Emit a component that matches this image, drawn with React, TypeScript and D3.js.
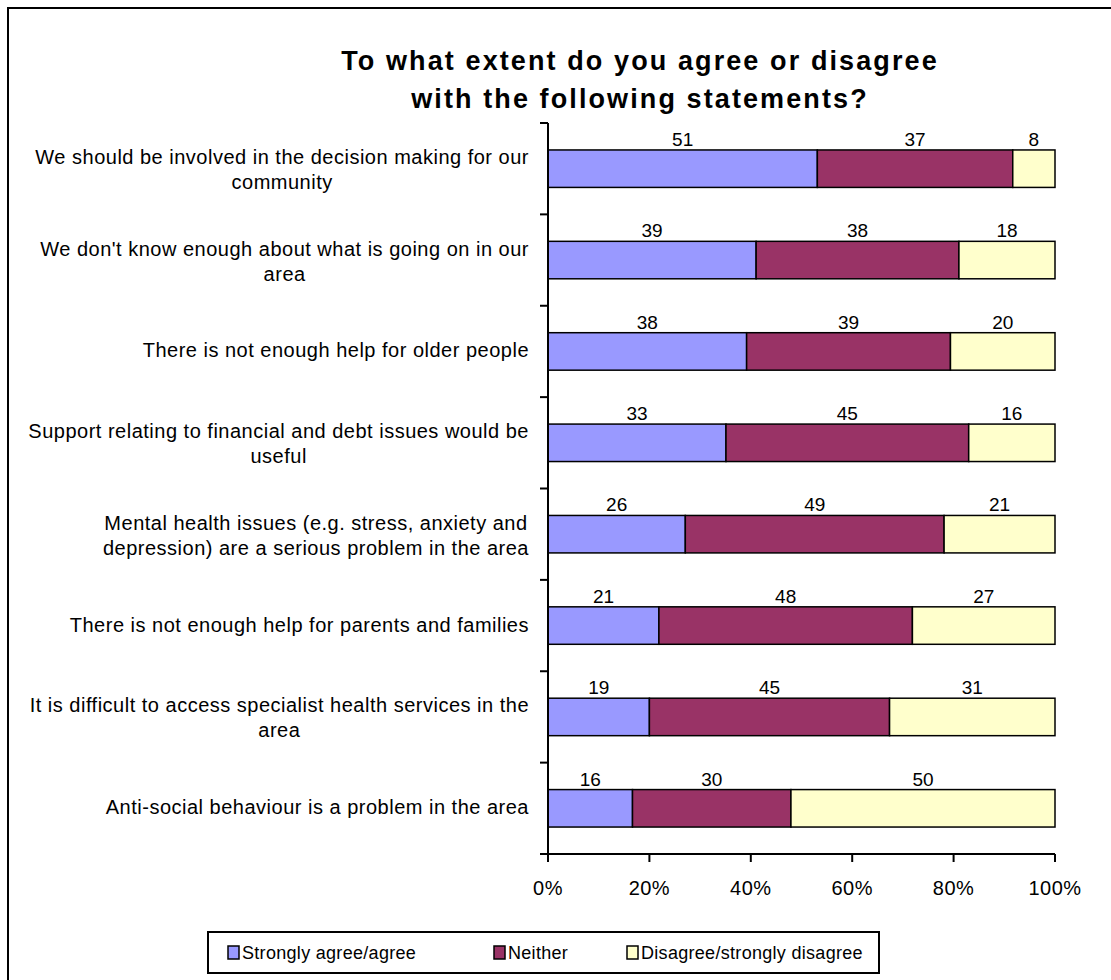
import React, { useEffect, useRef } from "react";
import * as d3 from "d3";

const categories: string[][] = [
  ["We should be involved in the decision making for our", "community"],
  ["We don't know enough about what is going on in our", "area"],
  ["There is not enough help for older people"],
  ["Support relating to financial and debt issues would be", "useful"],
  ["Mental health issues (e.g. stress, anxiety and", "depression) are a serious problem in the area"],
  ["There is not enough help for parents and families"],
  ["It is difficult to access specialist health services in the", "area"],
  ["Anti-social behaviour is a problem in the area"],
];
const agree = [51, 39, 38, 33, 26, 21, 19, 16];
const neither = [37, 38, 39, 45, 49, 48, 45, 30];
const disagree = [8, 18, 20, 16, 21, 27, 31, 50];
const seriesNames = ["Strongly agree/agree", "Neither", "Disagree/strongly disagree"];
const colors = ["#9999FF", "#993366", "#FFFFCC"];
const xTicks = [0, 0.2, 0.4, 0.6, 0.8, 1];
const titleLines = ["To what extent do you agree or disagree", "with the following statements?"];

const FONT = "'Liberation Sans', Arial, sans-serif";

export default function App() {
  const labelsRef = useRef<SVGGElement>(null);
  const x = d3.scaleLinear().domain([0, 1]).range([548, 1055]);
  const idx = categories.map((_, i) => i);
  const y = d3.scaleBand<number>().domain(idx).range([123, 854]).paddingInner(0).paddingOuter(0);
  const step = y.step();
  const barH = step * 0.41;

  const rows = idx.map((i) => ({ agree: agree[i], neither: neither[i], disagree: disagree[i] }));
  const stack = d3.stack<any>().keys(["agree", "neither", "disagree"]).offset(d3.stackOffsetExpand);
  const stacked = stack(rows);

  const legendX = [228, 494, 627];

  useEffect(() => {
    document.body.style.overflow = "hidden";
    document.documentElement.style.overflow = "hidden";
    const g = labelsRef.current;
    if (!g) return;
    d3.select(g)
      .selectAll<SVGGElement, unknown>("g.cat")
      .each(function () {
        const texts = d3.select(this).selectAll<SVGTextElement, unknown>("text");
        let maxW = 0;
        texts.each(function () {
          maxW = Math.max(maxW, this.getComputedTextLength());
        });
        texts.attr("text-anchor", "middle").attr("x", 529 - maxW / 2);
      });
  }, []);

  return (
    <svg
      width={1111}
      height={980}
      style={{ position: "fixed", left: 0, top: 0, fontFamily: FONT, background: "#fff" }}
    >
      <line x1={8} x2={1111} y1={8} y2={8} stroke="#000" strokeWidth={2} />
      <line x1={8} x2={8} y1={7} y2={980} stroke="#000" strokeWidth={2} />
      {titleLines.map((t, i) => (
        <text
          key={i}
          x={640}
          y={70 + i * 38}
          textAnchor="middle"
          fontWeight="bold"
          fontSize={27}
          letterSpacing={2.1}
          fill="#000"
        >
          {t}
        </text>
      ))}
      {/* bars */}
      {stacked.map((s, si) =>
        s.map((d, i) => {
          const y0 = (y(i) as number) + step / 2 - barH / 2;
          return (
            <rect
              key={`${si}-${i}`}
              x={x(d[0])}
              y={y0}
              width={x(d[1]) - x(d[0])}
              height={barH}
              fill={colors[si]}
              stroke="#000"
              strokeWidth={1.5}
            />
          );
        })
      )}
      {/* data labels */}
      {stacked.map((s, si) =>
        s.map((d, i) => {
          const y0 = (y(i) as number) + step / 2 - barH / 2;
          const v = [agree, neither, disagree][si][i];
          return (
            <text
              key={`l${si}-${i}`}
              x={(x(d[0]) + x(d[1])) / 2}
              y={y0 - 4}
              textAnchor="middle"
              fontSize={19}
              fill="#000"
            >
              {v}
            </text>
          );
        })
      )}
      {/* y axis */}
      <line x1={548} x2={548} y1={123} y2={854} stroke="#000" strokeWidth={2} />
      {d3.range(categories.length + 1).map((k) => {
        const yy = 123 + k * step;
        return <line key={`yt${k}`} x1={540} x2={548} y1={yy} y2={yy} stroke="#000" strokeWidth={2} />;
      })}
      {/* category labels */}
      <g ref={labelsRef}>
        {categories.map((lines, i) => {
          const cy = (y(i) as number) + step / 2;
          const lh = 25;
          const startY = cy - ((lines.length - 1) * lh) / 2 + 6 + (lines.length > 1 ? 2 : 0);
          return (
            <g key={`c${i}`} className="cat">
              {lines.map((ln, j) => (
                <text
                  key={j}
                  x={529}
                  y={startY + j * lh}
                  textAnchor="end"
                  fontSize={20}
                  letterSpacing={0.5}
                  fill="#000"
                >
                  {ln}
                </text>
              ))}
            </g>
          );
        })}
      </g>
      {/* x axis */}
      <line x1={540} x2={1055} y1={854} y2={854} stroke="#000" strokeWidth={2} />
      {xTicks.map((t) => (
        <g key={`xt${t}`}>
          <line x1={x(t)} x2={x(t)} y1={854} y2={862} stroke="#000" strokeWidth={2} />
          <text x={x(t)} y={895} textAnchor="middle" fontSize={20} letterSpacing={0.5} fill="#000">
            {d3.format(".0%")(t)}
          </text>
        </g>
      ))}
      {/* legend */}
      <rect x={208} y={932} width={671} height={41} fill="#fff" stroke="#000" strokeWidth={2} />
      {seriesNames.map((n, i) => (
        <g key={`lg${i}`}>
          <rect x={legendX[i]} y={946} width={11} height={13} fill={colors[i]} stroke="#000" strokeWidth={1.5} />
          <text x={legendX[i] + 14} y={959} fontSize={18} letterSpacing={0.3} fill="#000">
            {n}
          </text>
        </g>
      ))}
    </svg>
  );
}
